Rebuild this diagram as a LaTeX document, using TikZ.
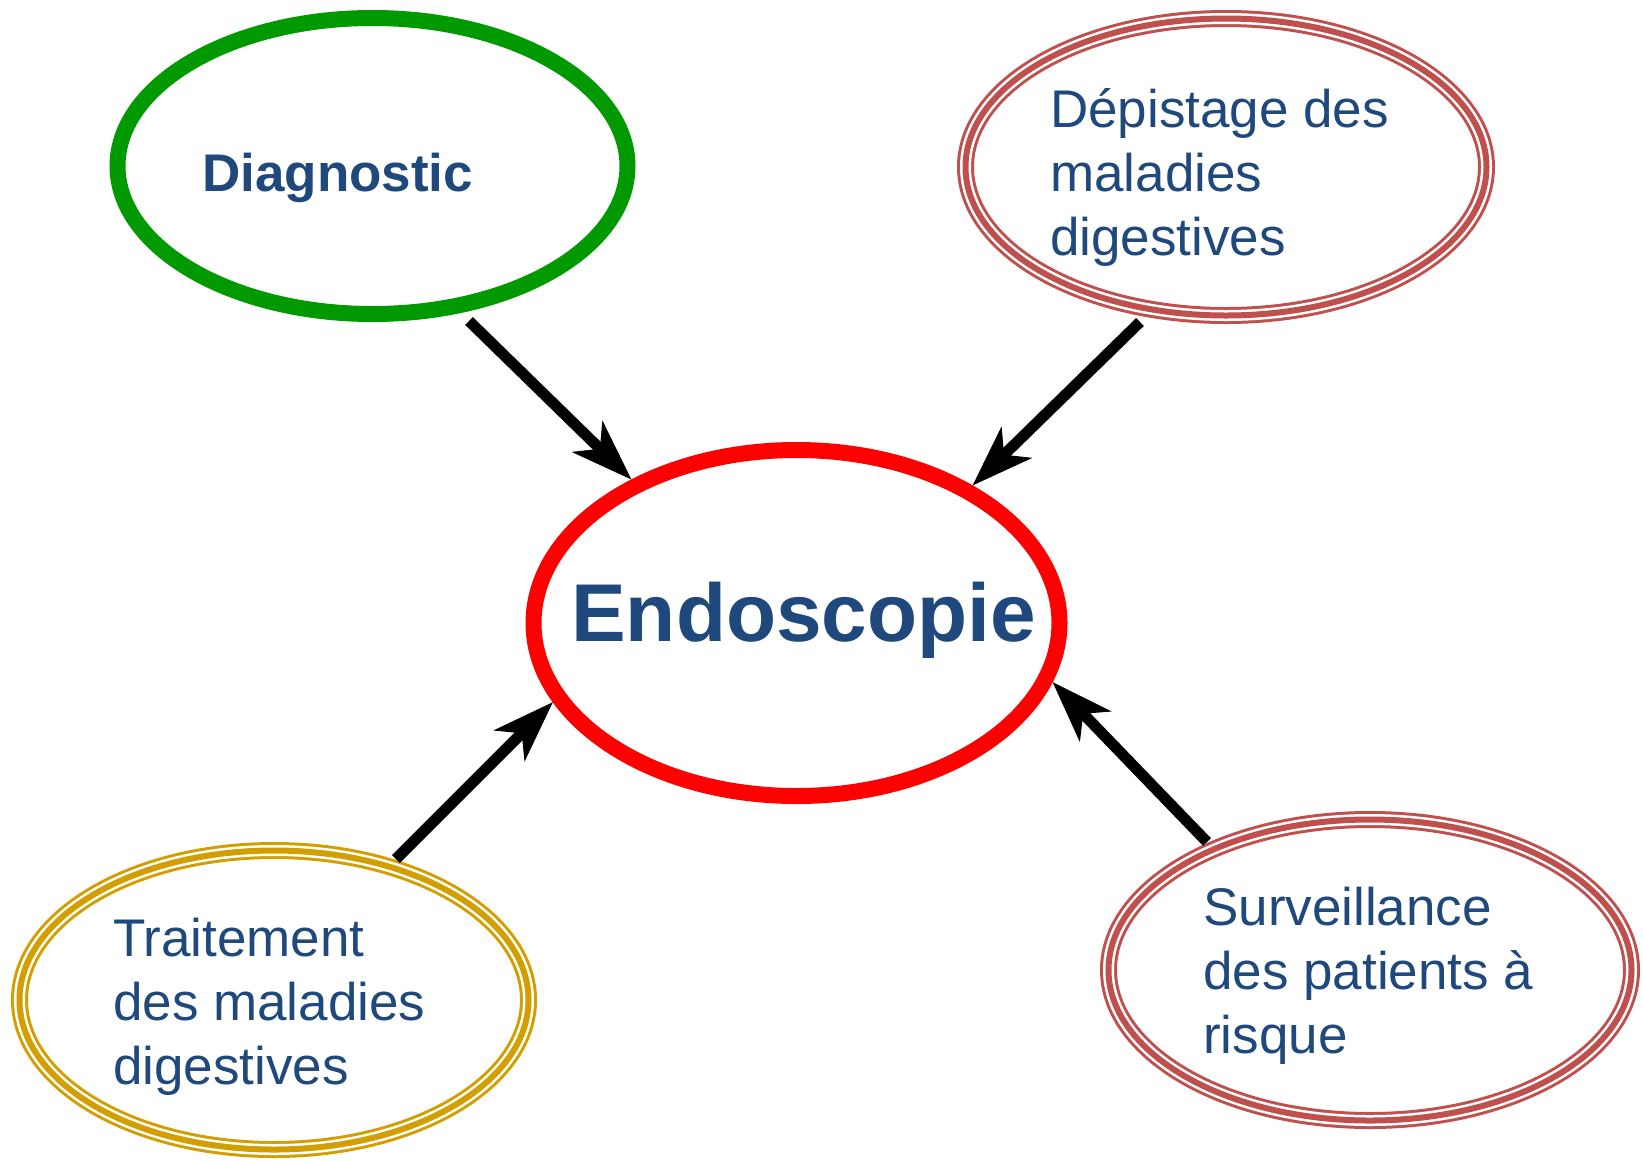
\documentclass[tikz,border=0pt]{standalone}
\usepackage{fontspec}
\setmainfont{Liberation Sans}
\usetikzlibrary{arrows.meta,shapes.geometric}
\definecolor{tblue}{RGB}{31,73,125}
\definecolor{dgreen}{RGB}{0,153,0}
\definecolor{dred}{RGB}{192,80,77}
\definecolor{gold}{RGB}{210,158,0}
\begin{document}
\begin{tikzpicture}[x=1pt,y=-1pt,
  oval/.style={ellipse, inner sep=0pt},
  single/.style={draw=#1, line width=16pt},
  triple/.style={draw=#1, line width=17pt, postaction={draw=white,line width=11pt}, postaction={draw=#1,line width=6pt}},
  arr/.style={line width=11pt, -{Stealth[length=62pt,width=44pt,inset=18pt,line width=1pt]}},
  lbl/.style={anchor=base west, inner sep=0pt, text=tblue, font=\fontsize{53}{64}\selectfont}]
\useasboundingbox (0,0) rectangle (1643,1160);
\node[oval, single=dgreen, minimum width=510pt, minimum height=296pt] (diag) at (372.5,166) {};
\node[oval, single=red, minimum width=526pt, minimum height=346pt] (endo) at (796.5,623) {};
\node[oval, triple=dred, minimum width=521pt, minimum height=297pt] (dep) at (1226,167) {};
\node[oval, triple=gold, minimum width=509pt, minimum height=299pt] (trait) at (274,1000) {};
\node[oval, triple=dred, minimum width=523pt, minimum height=301pt] (surv) at (1370,970) {};

\node[lbl, font=\fontsize{53}{64}\selectfont\bfseries] (diagt) at (202,191) {Diagnostic};
\node[lbl, font=\fontsize{82}{90}\selectfont\bfseries] (endot) at (571,641) {Endoscopie};
\node[lbl] (dept) at (1050,127) {\begin{tabular}[t]{@{}l@{}}Dépistage des\\maladies\\digestives\end{tabular}};
\node[lbl] (traitt) at (113,956) {\begin{tabular}[t]{@{}l@{}}Traitement\\des maladies\\digestives\end{tabular}};
\node[lbl] (survt) at (1203,925) {\begin{tabular}[t]{@{}l@{}}Surveillance\\des patients à\\risque\end{tabular}};

\coordinate (s1) at (469,321);
\coordinate (s2) at (1140,322);
\coordinate (s3) at (396,859);
\coordinate (s4) at (1207,842);
\draw[arr] (s1) -- (endo.139);
\draw[arr] (s2) -- (endo.38);
\draw[arr] (s3) -- (endo.198);
\draw[arr] (s4) -- (endo.347);
\end{tikzpicture}
\end{document}
